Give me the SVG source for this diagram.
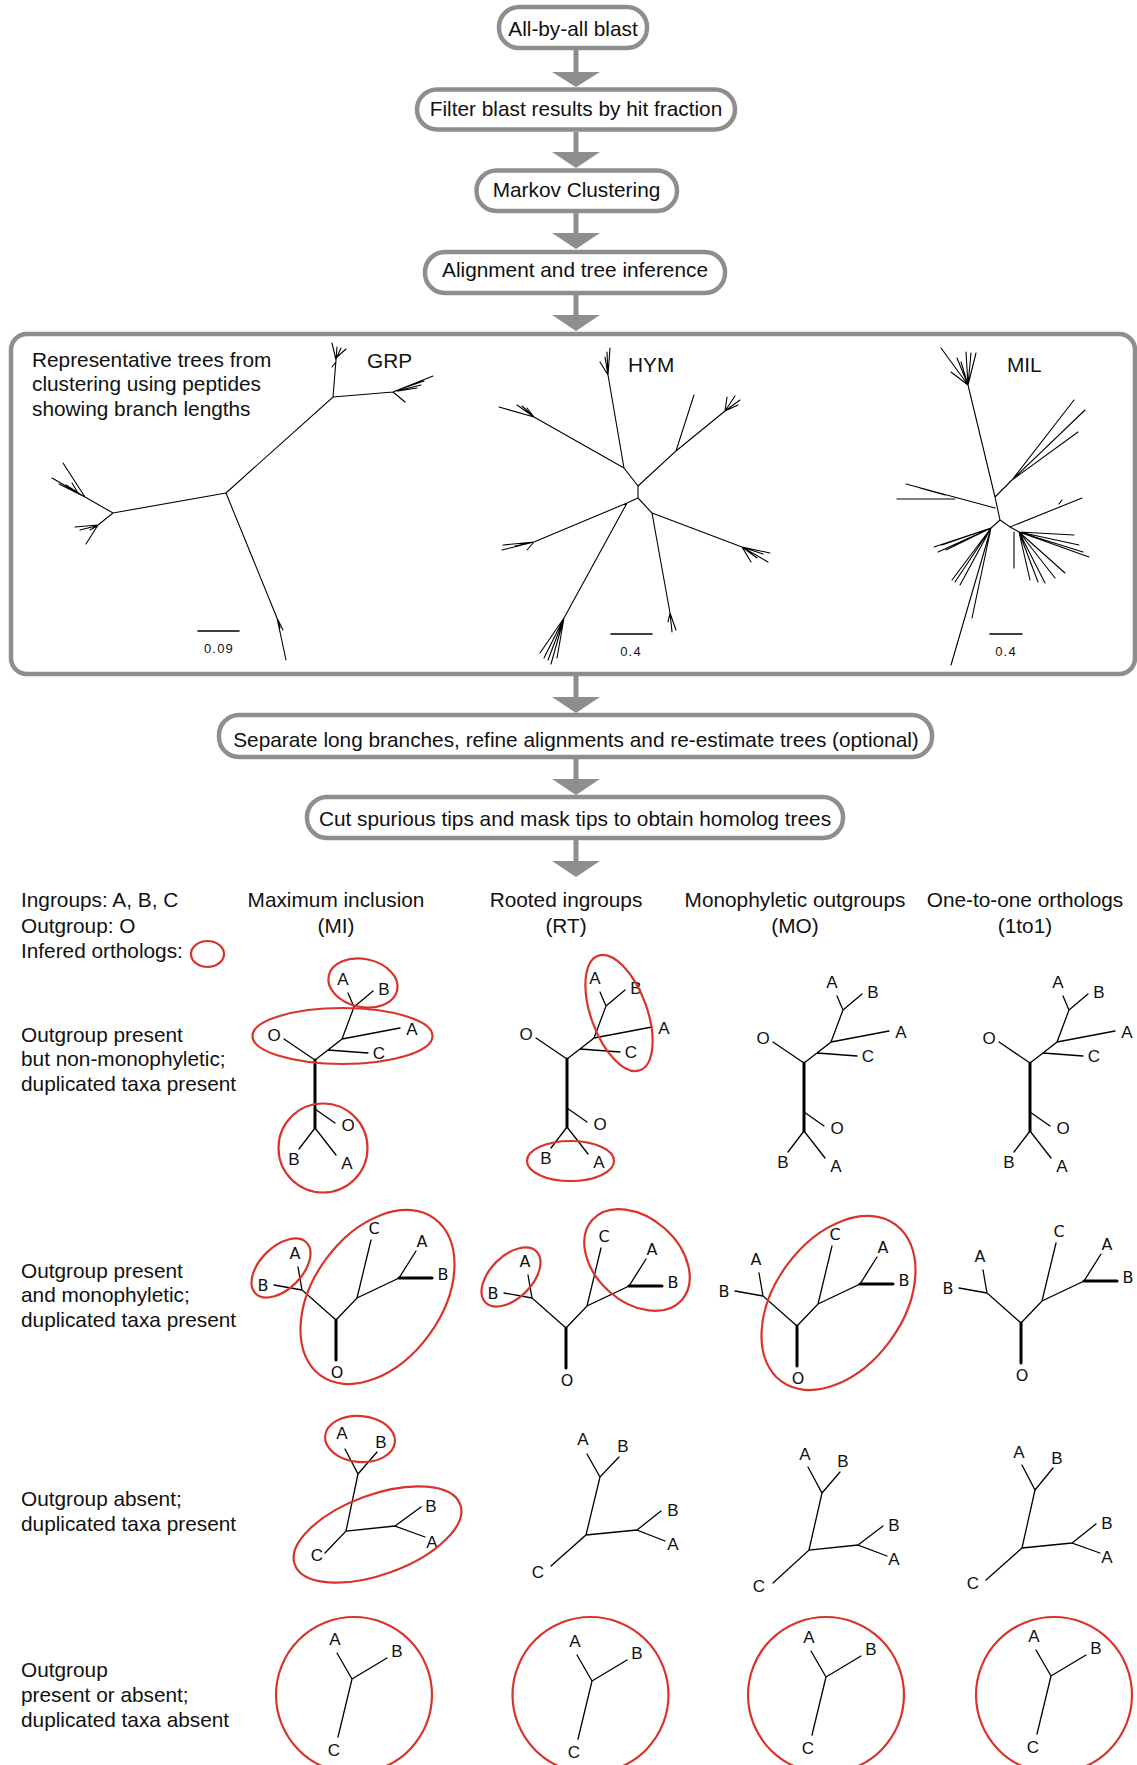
<svg xmlns="http://www.w3.org/2000/svg" xmlns:xlink="http://www.w3.org/1999/xlink" width="1137" height="1765" viewBox="0 0 1137 1765">
<style>
.box{fill:#fff;stroke:#8e8e8e;stroke-width:4.5}
.arr{fill:#8e8e8e;stroke:none}
.t{font-family:"Liberation Sans",Arial,sans-serif;font-size:20.8px;fill:#111}
.tc{text-anchor:middle}
.sc{font-family:"Liberation Sans",Arial,sans-serif;font-size:13px;fill:#111;text-anchor:middle;letter-spacing:1.2px}
.lb{font-family:"Liberation Sans",Arial,sans-serif;font-size:17px;text-anchor:middle;fill:#111}
.lb2{font-family:"DejaVu Sans",sans-serif;font-size:16px;text-anchor:middle;fill:#111}
.tr{fill:none;stroke:#000;stroke-width:1.3;stroke-linecap:round}
.tk{stroke-width:3}
.pt{fill:none;stroke:#000;stroke-width:1.1;stroke-linecap:round}
.ort{fill:none;stroke:#d9342b;stroke-width:2.2}
</style>
<defs>
<g id="tr1">
<path class="tr" d="M0,49 L20,63 M0,68 L-16,89 M0,68 L21,95 M0,0 L-31,-21 M0,0 L13,-10 L27,-21 L39,-53 M13,-10 L53,-7 M27,-21 L85,-32 M39,-53 L33,-67 M39,-53 L58,-69"/>
<path class="tr tk" d="M0,0 V68"/>
<text class="lb" x="33" y="71">O</text>
<text class="lb" x="-21" y="105">B</text>
<text class="lb" x="32" y="109">A</text>
<text class="lb" x="-41" y="-19">O</text>
<text class="lb" x="64" y="-1">C</text>
<text class="lb" x="97" y="-25">A</text>
<text class="lb" x="28" y="-75">A</text>
<text class="lb" x="69" y="-65">B</text>
</g>
<g id="tr2">
<path class="tr" d="M0,0 L-34,-30 L-38,-53 M-34,-30 L-62,-35 M0,0 L21,-22 L63,-42 L80,-69 M21,-22 L35,-80"/>
<path class="tr tk" d="M0,0 V40 M63,-42 H96"/>
<text class="lb2" x="1" y="58">O</text>
<text class="lb2" x="-41" y="-61">A</text>
<text class="lb2" x="-73" y="-29">B</text>
<text class="lb2" x="38" y="-86">C</text>
<text class="lb2" x="86" y="-73">A</text>
<text class="lb2" x="107" y="-40">B</text>
</g>
<g id="tr4">
<path class="tr" d="M0,0 L-15,-26 M0,0 L35,-21 M0,0 L-14,58"/>
<text class="lb" x="-17" y="-34">A</text>
<text class="lb" x="45" y="-22">B</text>
<text class="lb" x="-18" y="77">C</text>
</g>
</defs>
<rect width="1137" height="1765" fill="#fff"/>

<g id="connectors">
<polygon class="arr" points="573.5,50 578.5,50 578.5,72 600,72 576,87 552,72 573.5,72"/>
<polygon class="arr" points="573.5,132 578.5,132 578.5,152 600,152 576,168 552,152 573.5,152"/>
<polygon class="arr" points="573.5,213 578.5,213 578.5,233 600,233 576,249 552,233 573.5,233"/>
<polygon class="arr" points="573.5,295 578.5,295 578.5,315 600,315 576,331 552,315 573.5,315"/>
<polygon class="arr" points="573.5,676 578.5,676 578.5,697 600,697 576,713 552,697 573.5,697"/>
<polygon class="arr" points="573.5,759 578.5,759 578.5,779 600,779 576,795 552,779 573.5,779"/>
<polygon class="arr" points="573.5,840 578.5,840 578.5,861 600,861 576,877 552,861 573.5,861"/>
</g>

<g id="n-blast">
<rect class="box" x="499" y="7" width="148" height="41" rx="20"/>
<text class="t tc" x="573" y="36">All-by-all blast</text>
</g>
<g id="n-filter">
<rect class="box" x="417" y="89.5" width="318" height="40" rx="20"/>
<text class="t tc" x="576" y="116">Filter blast results by hit fraction</text>
</g>
<g id="n-mcl">
<rect class="box" x="476.5" y="170.5" width="200.5" height="40.5" rx="20"/>
<text class="t tc" x="576.5" y="197">Markov Clustering</text>
</g>
<g id="n-align">
<rect class="box" x="425" y="252" width="300" height="41" rx="20"/>
<text class="t tc" x="575" y="277">Alignment and tree inference</text>
</g>

<g id="n-panel">
<rect class="box" x="11" y="334" width="1124" height="340" rx="16"/>
<text class="t" x="32" y="366.5">Representative trees from</text>
<text class="t" x="32" y="391">clustering using peptides</text>
<text class="t" x="32" y="415.5">showing branch lengths</text>
<text class="t" x="367" y="368">GRP</text>
<text class="t" x="628" y="372">HYM</text>
<text class="t" x="1007" y="372">MIL</text>
<g id="tree-grp">
<path class="pt" d="M226,493 L333,397 L393,392 M333,397 L336,360 M336,360 L332,343 M336,360 L337,347 M336,359 L341,348 M336,358 L346,349 M336,362 L332,367 M393,392 L433,376 M395,391 L424,381 M397,391 L421,385 M398,391 L417,388 M393,392 L405,402 M226,493 L113,513 L85,497 M113,513 L98,525 M85,497 L63,463 M85,497 L52,478 M83,496 L59,484 M80,494 L66,485 M78,493 L72,483 M98,525 L75,527 M98,525 L86,544 M96,526 L80,530 M97,526 L90,530 M226,493 L277,618 L286,660 M277,618 L280,628 M278,620 L283,630"/>
<path class="pt" d="M198,631 H239" style="stroke-width:1.5"/>
<text class="sc" x="219" y="653">0.09</text>
</g>
<g id="tree-hym">
<path class="pt" d="M638,486 L638,498 M638,486 L624,468 L608,375 M608,375 L610,348 M608,375 L600,362 M608,375 L605,357 M608,375 L607,352 M624,468 L534,417 M534,417 L499,407 M534,417 L517,405 M534,417 L527,408 M534,417 L522,406 M638,486 L676,451 L694,395 M676,451 L725,411 M725,411 L740,400 M725,411 L727,397 M725,411 L738,405 M725,411 L735,396 M638,498 L627,503 L534,542 M534,542 L503,545 M534,542 L502,550 M534,542 L515,546 M534,542 L527,550 M627,503 L564,618 M564,618 L540,653 M564,618 L544,658 M564,618 L551,664 M564,618 L557,658 M564,618 L548,660 M638,498 L652,513 L670,613 M670,613 L672,632 M670,613 L668,622 M670,613 L676,630 M652,513 L742,547 M742,547 L751,562 M742,547 L768,562 M742,547 L770,553 M742,547 L763,554 M742,547 L757,558"/>
<path class="pt" d="M611,634 H652" style="stroke-width:1.5"/>
<text class="sc" x="631" y="656">0.4</text>
</g>
<g id="tree-mil">
<path class="pt" d="M995,497 L1000,520 M995,497 L968,385 M968,385 L941,348 M968,385 L951,372 M968,385 L957,358 M968,385 L966,352 M968,385 L971,353 M968,385 L976,353 M968,385 L961,362 M995,497 L1012,480 M1012,480 L1074,400 M1012,480 L1085,410 M1012,480 L1078,432 M995,508 L906,484 M897,499 L955,499 M920,488 L945,495 M1000,520 L1010,527 L1082,498 M1059,504 L1062,500 M1010,527 L1019,532 M1019,532 L1089,557 M1019,532 L1074,535 M1019,532 L1065,573 M1019,532 L1038,582 M1019,532 L1030,580 M1014,532 L1014,568 M1019,532 L1079,545 M1019,532 L1083,552 M1019,532 L1055,578 M1019,532 L1045,583 M1000,520 L991,528 M991,528 L934,547 M991,528 L938,552 M991,528 L942,545 M991,528 L946,550 M991,528 L950,542 M991,528 L955,582 M991,528 L952,580 M991,528 L960,585 M991,528 L972,618 M991,528 L951,665"/>
<path class="pt" d="M990,634 H1022" style="stroke-width:1.5"/>
<text class="sc" x="1006" y="656">0.4</text>
</g>
</g>

<g id="n-separate">
<rect class="box" x="219" y="715" width="713" height="42" rx="20"/>
<text class="t tc" x="576" y="747">Separate long branches, refine alignments and re-estimate trees (optional)</text>
</g>
<g id="n-cut">
<rect class="box" x="307" y="797" width="536" height="41" rx="20"/>
<text class="t tc" x="575" y="826">Cut spurious tips and mask tips to obtain homolog trees</text>
</g>

<g id="legend">
<text class="t" x="21" y="907">Ingroups: A, B, C</text>
<text class="t" x="21" y="932.5">Outgroup: O</text>
<text class="t" x="21" y="957.5">Infered orthologs:</text>
<ellipse class="ort" cx="207.5" cy="954" rx="16.5" ry="13"/>
</g>
<g id="col-headers">
<text class="t tc" x="336" y="907">Maximum inclusion</text>
<text class="t tc" x="336" y="932.5">(MI)</text>
<text class="t tc" x="566" y="907">Rooted ingroups</text>
<text class="t tc" x="566" y="932.5">(RT)</text>
<text class="t tc" x="795" y="907">Monophyletic outgroups</text>
<text class="t tc" x="795" y="932.5">(MO)</text>
<text class="t tc" x="1025" y="907">One-to-one orthologs</text>
<text class="t tc" x="1025" y="932.5">(1to1)</text>
</g>

<g id="row1">
<text class="t" x="21" y="1041.5">Outgroup present</text>
<text class="t" x="21" y="1066">but non-monophyletic;</text>
<text class="t" x="21" y="1090.5">duplicated taxa present</text>
<use xlink:href="#tr1" href="#tr1" transform="translate(315,1060)"/>
<use xlink:href="#tr1" href="#tr1" transform="translate(567,1059)"/>
<use xlink:href="#tr1" href="#tr1" transform="translate(804,1063)"/>
<use xlink:href="#tr1" href="#tr1" transform="translate(1030,1063)"/>
<ellipse class="ort" cx="363" cy="983" rx="35" ry="24" transform="rotate(12 363 983)"/>
<ellipse class="ort" cx="342.5" cy="1036" rx="90" ry="28"/>
<circle class="ort" cx="323" cy="1148" r="44.5"/>
<ellipse class="ort" cx="619" cy="1013" rx="28" ry="61" transform="rotate(-20 619 1013)"/>
<ellipse class="ort" cx="570.5" cy="1161" rx="43.5" ry="20"/>
</g>

<g id="row2">
<text class="t" x="21" y="1277.5">Outgroup present</text>
<text class="t" x="21" y="1302">and monophyletic;</text>
<text class="t" x="21" y="1327">duplicated taxa present</text>
<use xlink:href="#tr2" href="#tr2" transform="translate(336,1320)"/>
<use xlink:href="#tr2" href="#tr2" transform="translate(566,1328)"/>
<use xlink:href="#tr2" href="#tr2" transform="translate(797,1326)"/>
<use xlink:href="#tr2" href="#tr2" transform="translate(1021,1323)"/>
<ellipse class="ort" cx="281" cy="1268" rx="36" ry="21" transform="rotate(-45 281 1268)"/>
<ellipse class="ort" cx="377.5" cy="1297" rx="64" ry="97" transform="rotate(36 377.5 1297)"/>
<ellipse class="ort" cx="511" cy="1277" rx="36" ry="21" transform="rotate(-45 511 1277)"/>
<ellipse class="ort" cx="637" cy="1260" rx="42" ry="60" transform="rotate(-48 637 1260)"/>
<ellipse class="ort" cx="838.5" cy="1303" rx="64" ry="97" transform="rotate(36 838.5 1303)"/>
</g>

<g id="row3">
<text class="t" x="21" y="1506">Outgroup absent;</text>
<text class="t" x="21" y="1531">duplicated taxa present</text>
<g id="r3-mi">
<path class="tr" d="M345,1449 L358,1474 L377,1452 M358,1474 L346,1531 M325,1553 L346,1531 L395,1526 M421,1507 L395,1526 L425,1537"/>
<text class="lb" x="342" y="1439">A</text>
<text class="lb" x="381" y="1448">B</text>
<text class="lb" x="317" y="1561">C</text>
<text class="lb" x="431" y="1512">B</text>
<text class="lb" x="432" y="1548">A</text>
<ellipse class="ort" cx="360" cy="1439" rx="35" ry="23" transform="rotate(5 360 1439)"/>
<ellipse class="ort" cx="377.5" cy="1534.5" rx="88" ry="40" transform="rotate(-20 377.5 1534.5)"/>
</g>
<g id="r3-rt">
<path class="tr" d="M587,1454 L600,1477 L619,1457 M600,1477 L586,1535 M551,1566 L586,1535 L637,1530 M661,1511 L637,1530 L665,1541"/>
<text class="lb" x="583" y="1445">A</text>
<text class="lb" x="623" y="1452">B</text>
<text class="lb" x="538" y="1578">C</text>
<text class="lb" x="673" y="1516">B</text>
<text class="lb" x="673" y="1550">A</text>
</g>
<g id="r3-mo">
<path class="tr" d="M808,1467 L822,1493 L840,1472 M822,1493 L809,1550 M773,1583 L809,1550 L858,1545 M883,1526 L858,1545 L887,1556"/>
<text class="lb" x="805" y="1460">A</text>
<text class="lb" x="843" y="1467">B</text>
<text class="lb" x="759" y="1592">C</text>
<text class="lb" x="894" y="1531">B</text>
<text class="lb" x="894" y="1565">A</text>
</g>
<g id="r3-1to1">
<path class="tr" d="M1022,1465 L1035,1490 L1053,1468 M1035,1490 L1022,1548 M986,1580 L1022,1548 L1072,1543 M1096,1524 L1072,1543 L1100,1553"/>
<text class="lb" x="1019" y="1458">A</text>
<text class="lb" x="1057" y="1464">B</text>
<text class="lb" x="973" y="1589">C</text>
<text class="lb" x="1107" y="1529">B</text>
<text class="lb" x="1107" y="1563">A</text>
</g>
</g>

<g id="row4">
<text class="t" x="21" y="1677">Outgroup</text>
<text class="t" x="21" y="1701.5">present or absent;</text>
<text class="t" x="21" y="1726.5">duplicated taxa absent</text>
<use xlink:href="#tr4" href="#tr4" transform="translate(352,1679)"/>
<use xlink:href="#tr4" href="#tr4" transform="translate(592,1681)"/>
<use xlink:href="#tr4" href="#tr4" transform="translate(826,1677)"/>
<use xlink:href="#tr4" href="#tr4" transform="translate(1051,1676)"/>
<circle class="ort" cx="354" cy="1695" r="78"/>
<circle class="ort" cx="590.5" cy="1695" r="78"/>
<circle class="ort" cx="826" cy="1695" r="78"/>
<circle class="ort" cx="1054" cy="1695" r="78"/>
</g>
</svg>
